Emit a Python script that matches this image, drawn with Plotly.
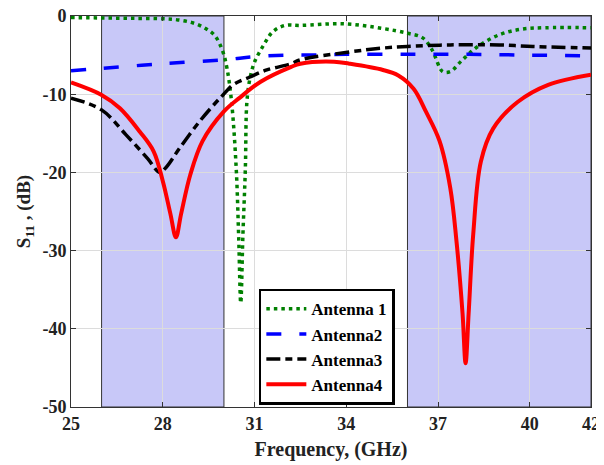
import plotly.graph_objects as go

# Antenna 1 (green dotted)
f1 = [25, 26, 27, 28, 28.5, 29, 29.4, 29.7, 29.95, 30.1, 30.25, 30.4, 30.48, 30.55, 30.62, 30.7, 30.75, 30.85, 31.0, 31.3, 31.6, 32.0, 32.5, 33.9, 35.2, 36.0, 36.5, 36.8, 37.15, 37.4, 37.8, 38.3, 39.0, 39.7, 40.5, 42]
s1 = [-0.2, -0.25, -0.3, -0.35, -0.5, -0.9, -1.6, -2.5, -4.4, -6.7, -11, -19.4, -28, -36.7, -28, -19.5, -11, -8, -5.9, -3.7, -2.0, -1.2, -1.2, -1.0, -1.6, -2.2, -2.8, -4.3, -7.1, -7.1, -5.6, -3.9, -2.4, -1.7, -1.5, -1.5]

# Antenna 2 (blue dashed)
f2 = [25, 26, 28, 30, 31, 32, 33, 34, 36, 38, 40, 42]
s2 = [-7.0, -6.7, -6.1, -5.6, -5.2, -5.0, -5.0, -4.9, -4.9, -4.9, -5.0, -5.1]

# Antenna 3 (black dash-dot)
f3 = [25, 26, 26.8, 27.5, 27.9, 28.1, 28.55, 29.2, 29.75, 29.97, 30.3, 30.85, 31.4, 32.2, 32.5, 34.1, 35.2, 36.0, 37.4, 39.0, 40.1, 42]
s3 = [-10.5, -12, -15.2, -18.2, -20, -19.4, -16.9, -13.5, -11, -10.1, -8.8, -7.8, -6.9, -6.1, -5.6, -4.6, -4.1, -3.9, -3.7, -3.7, -3.9, -4.1]

# Antenna 4 (red solid)
f4 = [25, 26, 26.6, 27.25, 27.7, 28.0, 28.25, 28.43, 28.6, 28.9, 29.3, 30.0, 30.5, 31.2, 32.2, 32.5, 33.6, 34.1, 35.2, 35.7, 36.2, 36.6, 37.05, 37.4, 37.6, 37.8, 37.9, 38.0, 38.15, 38.4, 38.8, 39.6, 40.6, 42]
s4 = [-8.5, -10.1, -11.8, -14.8, -17.3, -21.1, -25.3, -28.3, -25.3, -20.3, -16, -12.2, -10.5, -8.4, -6.5, -6.1, -5.85, -6.1, -6.9, -7.6, -9.3, -12.2, -16, -22, -28.7, -38, -44.4, -38, -27.9, -18.6, -14.4, -11, -8.8, -7.5]

bands = [(26, 30), (36, 42)]
xticks = [25, 28, 31, 34, 37, 40, 42]
yticks = [0, -10, -20, -30, -40, -50]

FONT = "Liberation Serif, Times New Roman, serif"

fig = go.Figure()
fig.add_trace(go.Scatter(x=f1, y=s1, mode="lines", name="Antenna 1", line=dict(color="#008000", width=3.5, dash="3.5px,4px"), line_shape="spline"))
fig.add_trace(go.Scatter(x=f2, y=s2, mode="lines", name="Antenna2", line=dict(color="#0000ff", width=3.5, dash="15px,18px"), line_shape="spline"))
fig.add_trace(go.Scatter(x=f3, y=s3, mode="lines", name="Antenna3", line=dict(color="#000000", width=3.5, dash="14px,5px,7px,5px"), line_shape="spline"))
fig.add_trace(go.Scatter(x=f4, y=s4, mode="lines", name="Antenna4", line=dict(color="#ff0000", width=4), line_shape="spline"))

for a, b in bands:
    fig.add_shape(type="rect", xref="x", yref="y", x0=a, x1=b, y0=-50, y1=0,
                  fillcolor="#c8c8f8", line=dict(color="#333333", width=1), layer="below")

fig.update_layout(
    width=604, height=465,
    margin=dict(l=63, r=21, t=8, b=66),
    plot_bgcolor="white", paper_bgcolor="white",
    font=dict(family=FONT, size=18, color="#222222", weight="bold"),
    showlegend=True,
    legend=dict(x=0.492, y=0.154, xanchor="center", yanchor="middle",
                bordercolor="black", borderwidth=2.5, bgcolor="white",
                font=dict(family=FONT, size=17, color="black", weight="bold"),
                tracegroupgap=0, itemwidth=40),
)
fig.update_xaxes(range=[25, 42], tickvals=xticks, ticktext=[str(v) for v in xticks],
                 showgrid=True, gridcolor="#dcdcdc", gridwidth=1, automargin=False,
                 showline=True, linecolor="#333333", linewidth=1, mirror="ticks",
                 ticks="inside", ticklen=5, tickcolor="#333333", zeroline=False,
                 ticklabeloverflow="allow",
                 tickfont=dict(family=FONT, size=18, color="#222222", weight="bold"),
                 title=dict(text="Frequency, (GHz)", standoff=9,
                            font=dict(family=FONT, size=20, color="#222222", weight="bold")))
fig.update_yaxes(range=[-50, 0], tickvals=yticks, ticktext=[str(v) for v in yticks],
                 showgrid=True, gridcolor="#dcdcdc", gridwidth=1, automargin=False,
                 showline=True, linecolor="#333333", linewidth=1, mirror="ticks",
                 ticks="inside", ticklen=5, tickcolor="#333333", zeroline=False,
                 ticklabeloverflow="allow",
                 tickfont=dict(family=FONT, size=18, color="#222222", weight="bold"),
                 title=dict(text="S<sub>11</sub> , (dB)", standoff=6,
                            font=dict(family=FONT, size=19, color="#222222", weight="bold")))

fig.write_html("out.html")
